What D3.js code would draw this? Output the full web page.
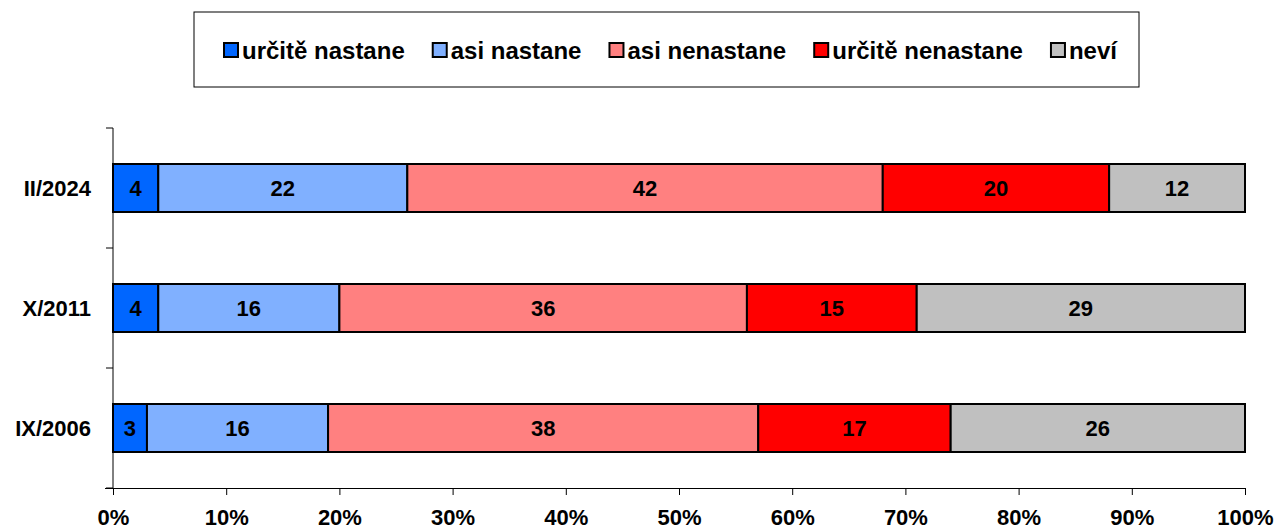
<!DOCTYPE html>
<html>
<head>
<meta charset="utf-8">
<script src="https://cdn.jsdelivr.net/npm/d3@7/dist/d3.min.js"></script>
<style>
  body { margin: 0; background: #fff; }
  text { font-family: "Liberation Sans", Arial, sans-serif; font-weight: bold; }
</style>
</head>
<body>
<div id="chart"></div>
<script>
// data
var categories = ["II/2024", "X/2011", "IX/2006"];
var seriesNames = ["určitě nastane", "asi nastane", "asi nenastane", "určitě nenastane", "neví"];
var seriesColors = ["#0066FF", "#80B0FF", "#FF8080", "#FF0000", "#C0C0C0"];
var urciteNastane = [4, 4, 3];
var asiNastane = [22, 16, 16];
var asiNenastane = [42, 36, 38];
var urciteNenastane = [20, 15, 17];
var nevi = [12, 29, 26];
var tickValues = [0, 10, 20, 30, 40, 50, 60, 70, 80, 90, 100];

var width = 1275, height = 529;
var svg = d3.select("#chart").append("svg")
    .attr("width", width)
    .attr("height", height);

// build stacked rows
var rows = categories.map(function(c, i) {
    return { cat: c, "určitě nastane": urciteNastane[i], "asi nastane": asiNastane[i],
             "asi nenastane": asiNenastane[i], "určitě nenastane": urciteNenastane[i], "neví": nevi[i] };
});
var stack = d3.stack().keys(seriesNames)(rows);

var xscale = d3.scaleLinear().domain([0, 100]).range([113, 1245]);
var yscale = d3.scaleBand().domain(categories).range([128, 488]).paddingInner(0.6).paddingOuter(0.3);
var color = d3.scaleOrdinal().domain(seriesNames).range(seriesColors);

// bars
var layer = svg.selectAll("g.layer")
    .data(stack)
    .enter().append("g")
    .attr("class", "layer")
    .attr("fill", function(d) { return color(d.key); });

layer.selectAll("rect")
    .data(function(d) { return d; })
    .enter().append("rect")
    .attr("x", function(d) { return xscale(d[0]); })
    .attr("y", function(d) { return yscale(d.data.cat); })
    .attr("width", function(d) { return xscale(d[1]) - xscale(d[0]); })
    .attr("height", yscale.bandwidth())
    .attr("stroke", "#000")
    .attr("stroke-width", 2);

layer.selectAll("text")
    .data(function(d) { return d; })
    .enter().append("text")
    .attr("x", function(d) { return (xscale(d[0]) + xscale(d[1])) / 2; })
    .attr("y", function(d) { return yscale(d.data.cat) + yscale.bandwidth() / 2; })
    .attr("dy", "0.36em")
    .attr("text-anchor", "middle")
    .attr("font-size", 22)
    .attr("fill", "#000")
    .text(function(d) { return d[1] - d[0]; });

// x axis
var xAxis = d3.axisBottom(xscale)
    .tickValues(tickValues)
    .tickFormat(function(d) { return d + "%"; })
    .tickSizeInner(7)
    .tickSizeOuter(0)
    .tickPadding(14);
var gx = svg.append("g")
    .attr("transform", "translate(0,488)")
    .call(xAxis);
gx.select(".domain").attr("d", "M105,0.5H1245").attr("stroke", "#000");
gx.selectAll(".tick line").attr("stroke", "#000");
gx.selectAll(".tick text").attr("font-size", 22).attr("fill", "#000")
    .attr("font-family", "Liberation Sans, Arial, sans-serif");

// y axis: tick marks on band boundaries
var gy = svg.append("g").attr("transform", "translate(113,0)");
gy.append("line").attr("x1", 0).attr("x2", 0).attr("y1", 128).attr("y2", 488).attr("stroke", "#000");
var bounds = categories.map(function(c) { return yscale(c) - yscale.step() * 0.3; });
bounds.push(488);
gy.selectAll("line.tk")
    .data(bounds)
    .enter().append("line")
    .attr("class", "tk")
    .attr("x1", -7).attr("x2", 0)
    .attr("y1", function(d) { return d; }).attr("y2", function(d) { return d; })
    .attr("stroke", "#000");
gy.selectAll("text")
    .data(categories)
    .enter().append("text")
    .attr("x", -22)
    .attr("y", function(d) { return yscale(d) + yscale.bandwidth() / 2; })
    .attr("dy", "0.36em")
    .attr("text-anchor", "end")
    .attr("font-size", 22)
    .text(function(d) { return d; });

// legend
var legend = svg.append("g");
legend.append("rect")
    .attr("x", 194).attr("y", 12).attr("width", 945).attr("height", 75)
    .attr("fill", "#fff").attr("stroke", "#000").attr("stroke-width", 1);

var items = legend.selectAll("g.item")
    .data(seriesNames)
    .enter().append("g")
    .attr("class", "item");
items.append("rect")
    .attr("width", 14).attr("height", 14)
    .attr("fill", function(d) { return color(d); })
    .attr("stroke", "#000").attr("stroke-width", 2);
items.append("text")
    .attr("x", 18).attr("y", 7)
    .attr("dy", "0.36em")
    .attr("font-size", 24)
    .text(function(d) { return d; });

var xpos = 224;
items.each(function() {
    var g = d3.select(this);
    g.attr("transform", "translate(" + xpos + ",43)");
    xpos += 18 + g.select("text").node().getComputedTextLength() + 28;
});
</script>
</body>
</html>
